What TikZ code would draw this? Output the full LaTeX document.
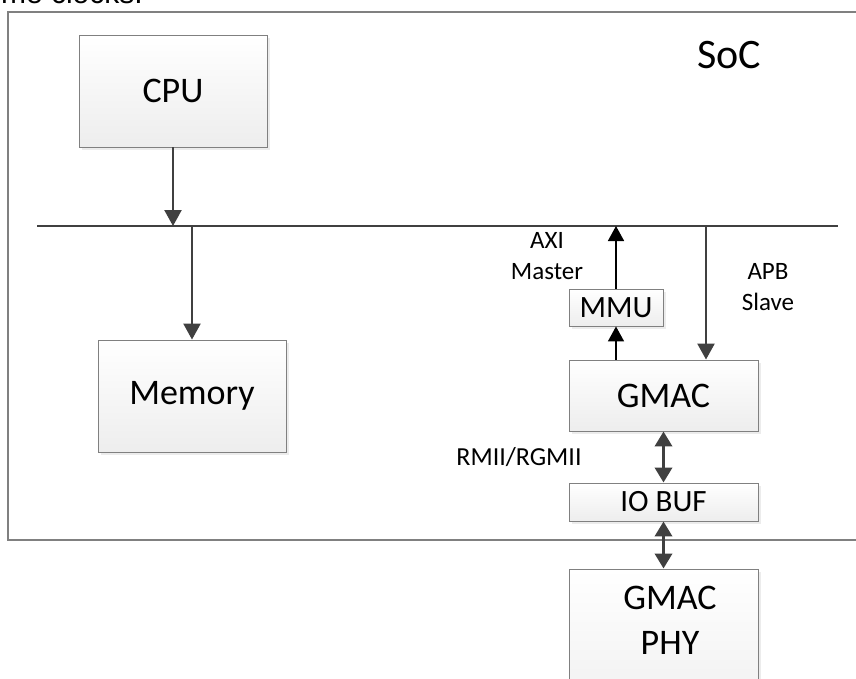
\documentclass[tikz,border=0pt]{standalone}
\usepackage{fontspec}
\setmainfont{Carlito}
\newfontfamily\arialfont{Liberation Sans}
\usetikzlibrary{arrows.meta,shadows}
\definecolor{arrgray}{HTML}{404040}
\definecolor{bordgray}{HTML}{808080}
\tikzset{
  blk/.style={draw=bordgray, line width=0.9pt, top color=white, bottom color=black!7,
    drop shadow={shadow xshift=3pt, shadow yshift=-3pt, fill=black!14},
    inner sep=0pt, text=black, align=center},
  bigtxt/.style={font=\fontsize{36}{45}\selectfont},
  midtxt/.style={font=\fontsize{31}{36}\selectfont},
  lbl/.style={font=\fontsize{25}{31}\selectfont, align=center, inner sep=0pt},
  garrow/.style={draw=arrgray, line width=2.4pt, -{Triangle[length=16pt,width=17pt]}},
  karrow/.style={draw=black, line width=1.6pt, -{Triangle[length=15pt,width=16pt]}},
  darrow/.style={draw=arrgray, line width=3.5pt, {Triangle[length=15pt,width=17pt]}-{Triangle[length=15pt,width=17pt]}},
}
\begin{document}
\begin{tikzpicture}[x=1pt,y=-1pt]
\useasboundingbox (0,0) rectangle (856,679);
\clip (0,0) rectangle (856,679);
\fill[white] (0,0) rectangle (856,679);

% cut-off text from the surrounding page
\node[anchor=base east, inner sep=0pt, font=\arialfont\fontsize{30}{36}\selectfont] (toptext) at (143,4) {time clocks.};

% SoC frame
\draw[draw=bordgray, line width=1.5pt] (870,12) -- (8,12) -- (8,540) -- (870,540);
\node[inner sep=0pt, font=\fontsize{42}{48}\selectfont] (soc) at (729,55) {SoC};

% bus
\coordinate (busL) at (37,226);
\coordinate (busR) at (838,226);
\coordinate (apb) at (706,226);
\draw[draw=arrgray, line width=2.6pt] (busL) -- (busR);

% blocks
\node[blk, bigtxt, minimum width=188pt, minimum height=112pt] (cpu) at (173,91) {CPU};
\node[blk, bigtxt, minimum width=188pt, minimum height=112pt] (mem) at (192,396) {Memory};
\node[blk, midtxt, minimum width=94pt, minimum height=37pt] (mmu) at (616,307.5) {MMU};
\node[blk, bigtxt, minimum width=189pt, minimum height=71pt] (gmac) at (663.5,395.5) {GMAC};
\node[blk, midtxt, minimum width=189pt, minimum height=38pt] (iobuf) at (663.5,502) {IO BUF};
\node[blk, minimum width=189pt, minimum height=170pt] (phy) at (663.5,654) {};
\node[inner sep=0pt, align=center, font=\fontsize{36}{45}\selectfont] (phytxt) at (670,620) {GMAC\\PHY};

% labels
\node[lbl] (axi) at (547,256) {AXI\\Master};
\node[lbl] (apbl) at (768,287) {APB\\Slave};
\node[lbl, font=\fontsize{26}{31}\selectfont] (rmii) at (519,457) {RMII/RGMII};

% connectors
\draw[garrow] (cpu.south) -- (cpu.south |- busL);
\draw[garrow] (mem.north |- busL) -- (mem.north);
\draw[karrow] (mmu.north) -- (mmu.north |- busL);
\draw[karrow] (mmu.south |- gmac.north) -- (mmu.south);
\draw[garrow] (apb) -- (apb |- gmac.north);
\draw[darrow] (gmac.south) -- (iobuf.north);
\draw[darrow] (iobuf.south) -- (phy.north);
\end{tikzpicture}
\end{document}
